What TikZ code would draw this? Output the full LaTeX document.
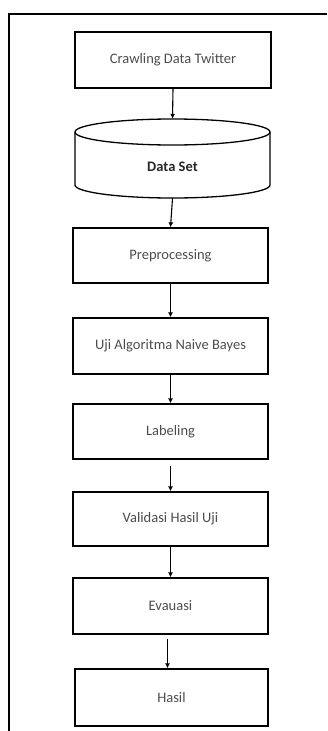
\documentclass[tikz,border=0pt]{standalone}
\usepackage{fontspec}
\setmainfont{Carlito}
\usetikzlibrary{arrows.meta}
\begin{document}
\begin{tikzpicture}[x=1pt,y=1pt,
  box/.style={draw=black,line width=1.3pt,minimum width=195pt,minimum height=55pt,inner sep=0pt,
    font=\fontsize{14.5}{16}\selectfont,text=black!70},
  conn/.style={line width=1.1pt,-{Latex[length=5pt,width=5pt]}}]
\useasboundingbox (0,0) rectangle (327,-731);
\draw[line width=1.1pt] (327,-14) -- (9,-14) -- (9,-731);
\node[box,minimum width=196pt,minimum height=56pt] (crawl) at (173,-60) {Crawling Data Twitter};
% cylinder
\draw[line width=1.3pt] (172.5,-132) ellipse [x radius=97.5pt,y radius=13pt];
\draw[line width=1.3pt] (75,-132) -- (75,-185) arc[start angle=180,end angle=360,x radius=97.5pt,y radius=13pt] -- (270,-132);
\node[minimum width=195pt,minimum height=79pt,inner sep=0pt] (ds) at (172.5,-158.5) {};
\node[font=\bfseries\fontsize{14.5}{16}\selectfont,text=black!85] (dst) at (172.5,-167) {Data Set};
\node[box] (pre) at (170.5,-255.5) {Preprocessing};
\node[box,minimum height=56pt] (uji) at (170.5,-346) {Uji Algoritma Naive Bayes};
\node[box] (lab) at (170.5,-431.5) {Labeling};
\node[box,minimum height=54pt] (val) at (170.5,-519) {Validasi Hasil Uji};
\node[box,minimum height=56pt] (eva) at (170.5,-606) {Evauasi};
\node[box,minimum width=193pt,minimum height=57pt] (has) at (171.5,-697.5) {Hasil};
\draw[conn] (crawl.south) -- (ds.north);
\draw[conn] (ds.south) -- (pre.north);
\draw[conn] (pre.south) -- (uji.north);
\draw[conn] (uji.south) -- (lab.north);
\draw[conn,shorten <=6pt] (lab.south) -- (val.north);
\draw[conn] (val.south) -- (eva.north);
\draw[conn,shorten <=4pt] ([xshift=-3pt]eva.south) -- ([xshift=-4pt]has.north);
\end{tikzpicture}
\end{document}
